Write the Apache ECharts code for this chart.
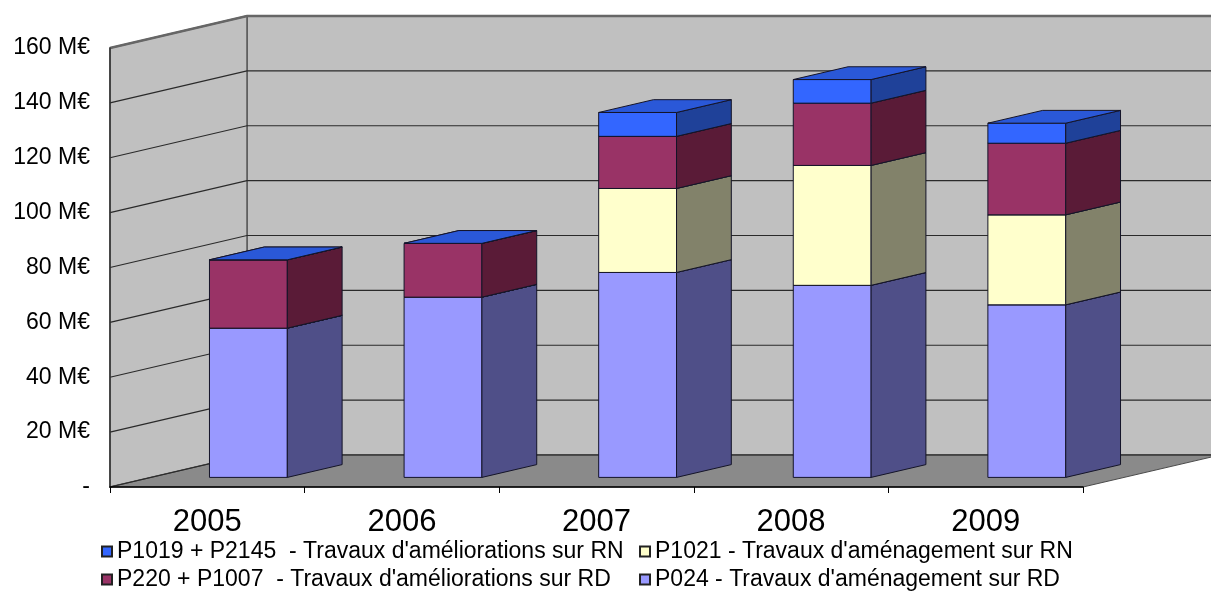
<!DOCTYPE html>
<html>
<head>
<meta charset="utf-8">
<script src="https://cdn.jsdelivr.net/npm/echarts@6/dist/echarts.min.js"></script>
<style>
  html, body { margin: 0; padding: 0; background: #ffffff; }
  #chart { width: 1211px; height: 598px; }
</style>
</head>
<body>
<div id="chart"></div>
<script>
// Investissements routiers par programme, en millions d'euros
const years = ['2005', '2006', '2007', '2008', '2009'];
const p024  = [54.4, 65.7, 74.7, 70.0, 62.9];   // P024 - aménagement RD
const p1021 = [0, 0, 30.6, 43.7, 32.8];          // P1021 - aménagement RN
const p220  = [24.9, 19.6, 19.0, 22.7, 26.1];    // P220 + P1007 - améliorations RD
const p1019 = [0, 0, 8.7, 8.6, 7.3];             // P1019 + P2145 - améliorations RN
const yTicks = [0, 20, 40, 60, 80, 100, 120, 140, 160];

const NAME_P1019 = "P1019 + P2145  - Travaux d'améliorations sur RN";
const NAME_P220  = "P220 + P1007  - Travaux d'améliorations sur RD";
const NAME_P1021 = "P1021 - Travaux d'aménagement sur RN";
const NAME_P024  = "P024 - Travaux d'aménagement sur RD";

// Oblique projection of the depth axis (full depth of the box)
const DEPTH_X = 137, DEPTH_Y = -32;
// Bars occupy the middle of the depth and 40 % of a category
const D0 = 0.3, D1 = 0.7, BAR_FRAC = 0.4;
const EDGE = '#141428';
const FONT = 'Liberation Sans, Arial, sans-serif';

// Stacked layers, bottom to top, with their face shades
const layers = [
  { name: NAME_P024,  values: p024,  front: '#9999ff', side: '#4f4f88', top: '#7b7bd0' },
  { name: NAME_P1021, values: p1021, front: '#ffffcc', side: '#82826a', top: '#d0d0a6' },
  { name: NAME_P220,  values: p220,  front: '#993366', side: '#5a1b37', top: '#7a2952' },
  { name: NAME_P1019, values: p1019, front: '#3366ff', side: '#1f4199', top: '#2a58d8' }
];

// cumulative bases for the stack
const bases = years.map(() => 0);
const layerData = layers.map(l => {
  const d = l.values.map((v, i) => [i, bases[i], v]);
  l.values.forEach((v, i) => { bases[i] += v; });
  return d;
});

function layerRenderer(layer) {
  return function (params, api) {
    const ci = api.value(0), base = api.value(1), val = api.value(2);
    const p0 = api.coord([ci, base]);
    const p1 = api.coord([ci, base + val]);
    const w = api.size([1, 0])[0] * BAR_FRAC;
    const ox = DEPTH_X * D0, oy = DEPTH_Y * D0;
    const dx = DEPTH_X * (D1 - D0), dy = DEPTH_Y * (D1 - D0);
    const xL = p0[0] - w / 2 + ox, xR = p0[0] + w / 2 + ox;
    const yB = p0[1] + oy, yT = p1[1] + oy;
    const st = (fill) => ({ fill: fill, stroke: EDGE, lineWidth: 1, lineJoin: 'round' });
    return {
      type: 'group',
      children: [
        { type: 'polygon', shape: { points: [[xL, yB], [xR, yB], [xR, yT], [xL, yT]] }, style: st(layer.front) },
        { type: 'polygon', shape: { points: [[xR, yB], [xR + dx, yB + dy], [xR + dx, yT + dy], [xR, yT]] }, style: st(layer.side) },
        { type: 'polygon', shape: { points: [[xL, yT], [xR, yT], [xR + dx, yT + dy], [xL + dx, yT + dy]] }, style: st(layer.top) }
      ]
    };
  };
}

// Side wall, back wall and floor of the box
function wallsRenderer(params, api) {
  const cs = params.coordSys;
  const x0 = cs.x, x1 = cs.x + cs.width;
  const yTop = api.coord([0, yTicks[yTicks.length - 1]])[1];
  const yBot = api.coord([0, 0])[1];
  const wallStyle = { fill: '#c0c0c0', stroke: '#5a5a5a', lineWidth: 1.5 };
  return {
    type: 'group',
    children: [
      { type: 'polygon', shape: { points: [[x0 + DEPTH_X, yTop + DEPTH_Y], [x1 + DEPTH_X, yTop + DEPTH_Y], [x1 + DEPTH_X, yBot + DEPTH_Y], [x0 + DEPTH_X, yBot + DEPTH_Y]] }, style: wallStyle },
      { type: 'polygon', shape: { points: [[x0, yTop], [x0 + DEPTH_X, yTop + DEPTH_Y], [x0 + DEPTH_X, yBot + DEPTH_Y], [x0, yBot]] }, style: wallStyle },
      { type: 'polygon', shape: { points: [[x0, yBot], [x1, yBot], [x1 + DEPTH_X, yBot + DEPTH_Y], [x0 + DEPTH_X, yBot + DEPTH_Y]] }, style: { fill: '#8a8a8a', stroke: '#4a4a4a', lineWidth: 1 } },
      { type: 'polyline', shape: { points: [[x0, yTop], [x0 + DEPTH_X, yTop + DEPTH_Y], [x1 + DEPTH_X, yTop + DEPTH_Y]] }, style: { stroke: '#666', lineWidth: 2.5, fill: null } }
    ]
  };
}

// Gridlines: slanted on the side wall, horizontal on the back wall
function gridRenderer(params, api) {
  const cs = params.coordSys;
  const x0 = cs.x, x1 = cs.x + cs.width;
  const y = api.coord([0, api.value(0)])[1];
  return {
    type: 'polyline',
    shape: { points: [[x0, y], [x0 + DEPTH_X, y + DEPTH_Y], [x1 + DEPTH_X, y + DEPTH_Y]] },
    style: { stroke: '#2a2a2a', lineWidth: 1.2, fill: null }
  };
}

const chart = echarts.init(document.getElementById('chart'), null, { renderer: 'canvas' });

const series = [
  { type: 'custom', name: 'walls', z: 1, silent: true, clip: false,
    data: [[0]], encode: { x: 0, y: 0 }, renderItem: wallsRenderer },
  { type: 'custom', name: 'grid', z: 2, silent: true, clip: false,
    data: yTicks.slice(0, -1).map(v => [v]), encode: { y: 0 }, renderItem: gridRenderer }
];
layers.forEach((l, k) => {
  series.push({
    type: 'custom',
    name: l.name,
    z: 3 + k,
    clip: false,
    itemStyle: { color: l.front, borderColor: '#222', borderWidth: 1 },
    data: layerData[k],
    encode: { x: 0, y: [1, 2] },
    renderItem: layerRenderer(l)
  });
});

const legendCommon = {
  orient: 'vertical',
  icon: 'rect',
  itemWidth: 10,
  itemHeight: 10,
  itemGap: 5,
  padding: 0,
  textStyle: { fontFamily: FONT, fontSize: 23, color: '#000', lineHeight: 23 }
};

chart.setOption({
  backgroundColor: '#ffffff',
  animation: false,
  grid: { left: 110, right: 128, top: 48, bottom: 111, containLabel: false },
  xAxis: {
    type: 'category',
    data: years,
    z: 10,
    axisLine: { show: true, lineStyle: { color: '#000', width: 1.5 } },
    axisTick: { show: true, length: 6, lineStyle: { color: '#000' } },
    axisLabel: { fontFamily: FONT, fontSize: 31, color: '#000', margin: 20 },
    splitLine: { show: false }
  },
  yAxis: {
    type: 'value',
    min: 0,
    max: 160,
    interval: 20,
    z: 10,
    axisLine: { show: true, lineStyle: { color: '#333', width: 1.5 } },
    axisTick: { show: false },
    splitLine: { show: false },
    axisLabel: {
      fontFamily: FONT, fontSize: 23, color: '#000', margin: 20,
      formatter: v => (v === 0 ? '-' : v + ' M€')
    }
  },
  legend: [
    Object.assign({ left: 101, top: 540, data: [NAME_P1019, NAME_P220] }, legendCommon),
    Object.assign({ left: 639, top: 540, data: [NAME_P1021, NAME_P024] }, legendCommon)
  ],
  series: series
});
</script>
</body>
</html>
